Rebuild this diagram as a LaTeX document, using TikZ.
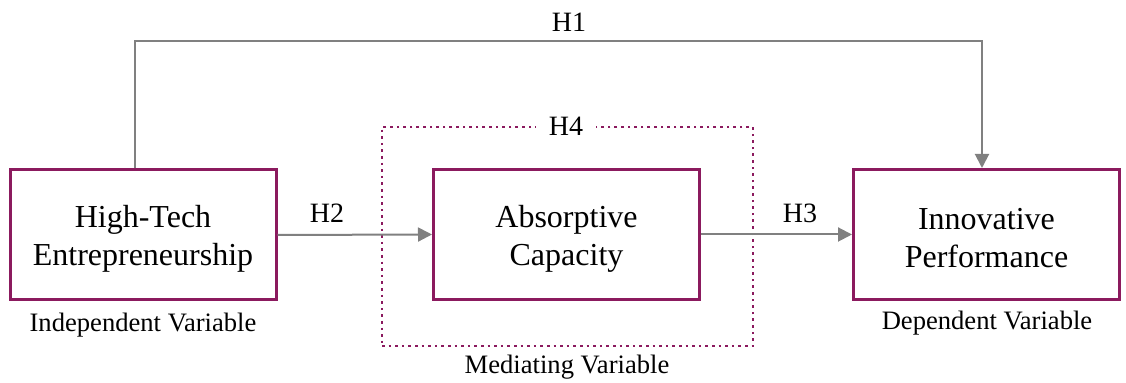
\documentclass[tikz,border=0pt]{standalone}
\usepackage{fontspec}
\setmainfont{Liberation Serif}
\usetikzlibrary{arrows.meta,calc}
\definecolor{boxc}{HTML}{8B1A5E}
\definecolor{arrc}{HTML}{808080}
\tikzset{
  varbox/.style={draw=boxc, line width=1.5pt, minimum width=133pt, minimum height=65pt, inner sep=0pt},
  boxtext/.style={align=center, inner sep=0pt, font=\fontsize{16}{19}\selectfont},
  arr/.style={draw=arrc, line width=1pt, -{Triangle[length=7pt,width=7pt]}},
  hlab/.style={font=\fontsize{14}{16}\selectfont, inner sep=2pt},
  vlab/.style={font=\fontsize{13.3}{15}\selectfont, inner sep=0pt},
  medbox/.style={draw=boxc, line width=1.3pt, dotted, minimum width=185.5pt, minimum height=109.5pt, inner sep=0pt}
}
\begin{document}
\begin{tikzpicture}[x=0.5pt,y=-0.5pt]
\useasboundingbox (0,0) rectangle (1126,383);
\node[medbox] (M) at (567.5,236.5) {};
\node[hlab, fill=white, minimum width=30pt] (H4) at (566,126) {H4};
\node[varbox] (A) at (143,235) {};
\node[varbox] (B) at (566.5,234.5) {};
\node[varbox] (C) at (986.5,234.5) {};
\node[boxtext] (At) at ([yshift=-2pt]A.center) {High-Tech\\Entrepreneurship};
\node[boxtext] (Bt) at ([yshift=-2pt]B.center) {Absorptive\\Capacity};
\node[boxtext] (Ct) at ([yshift=-2pt]C.center) {Innovative\\Performance};
\node[vlab] (la) at (143,325) {Independent Variable};
\node[vlab] (lc) at (987,323) {Dependent Variable};
\node[vlab] (lm) at (567,367) {Mediating Variable};
\coordinate (top) at (560,41);
\draw[arr] ([xshift=-4pt]A.north) |- (top) -| ([xshift=-2.25pt]C.north);
\node[hlab] (H1) at (569,22) {H1};
\draw[arr] (A.east) -- (B.west);
\node[hlab] (H2) at (327,213) {H2};
\draw[arr] (B.east) -- (C.west);
\node[hlab] (H3) at (800,213) {H3};
\end{tikzpicture}
\end{document}
